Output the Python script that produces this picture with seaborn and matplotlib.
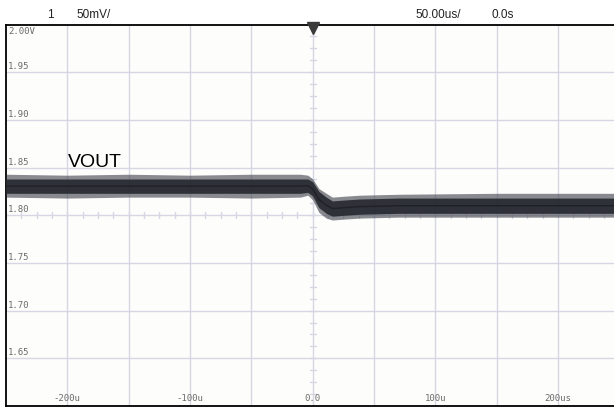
import numpy as np
import pandas as pd
import matplotlib
matplotlib.use("Agg")
import matplotlib.pyplot as plt
import matplotlib.transforms as mtrans
import seaborn as sns

# ---- data ----
t_us = [-250, -200, -150, -100, -50, -10, -4, 0, 5, 11, 16, 26, 38, 70, 150, 250]
outer_hi = [1.843, 1.842, 1.843, 1.842, 1.843, 1.843, 1.842, 1.838, 1.828, 1.823, 1.819, 1.820, 1.821, 1.822, 1.823, 1.823]
outer_lo = [1.819, 1.818, 1.819, 1.819, 1.818, 1.819, 1.821, 1.816, 1.803, 1.797, 1.795, 1.796, 1.797, 1.798, 1.798, 1.798]
core_hi = [1.838, 1.838, 1.838, 1.838, 1.838, 1.838, 1.838, 1.835, 1.825, 1.819, 1.815, 1.816, 1.817, 1.818, 1.818, 1.818]
core_lo = [1.823, 1.823, 1.823, 1.823, 1.823, 1.823, 1.824, 1.820, 1.808, 1.802, 1.799, 1.800, 1.801, 1.802, 1.802, 1.802]

ylab_vals = [1.95, 1.90, 1.85, 1.80, 1.75, 1.70, 1.65]
ylab_texts = ["1.95", "1.90", "1.85", "1.80", "1.75", "1.70", "1.65"]
xlab_vals = [-200, -100, 0, 100, 200]
xlab_texts = ["-200u", "-100u", "0.0", "100u", "200us"]
header = [(47, "1"), (76, "50mV/"), (415, "50.00us/"), (491, "0.0s")]
trace_label = "VOUT"

# ---- figure ----
sns.set_style("white")
plt.rcParams["font.family"] = ["DejaVu Sans"]
W, H = 614, 408
fig = plt.figure(figsize=(W / 100, H / 100), dpi=100)
fig.patch.set_facecolor("white")
ax = fig.add_axes([6 / W, (H - 406) / H, 613.5 / W, 381.5 / H])
ax.set_xlim(-250, 250)
ax.set_ylim(1.60, 2.00)
ax.set_facecolor("#fdfdfb")

grid_c = "#d6d6e4"
for gx in np.arange(-200, 201, 50):
    ax.axvline(gx, color=grid_c, lw=1, zorder=1)
for gy in np.arange(1.65, 1.96, 0.05):
    ax.axhline(gy, color=grid_c, lw=1, zorder=1)

# minor ticks along centre lines
d_v = 0.0032
for tx in np.arange(-250, 250.1, 12.5):
    ax.plot([tx, tx], [1.80 - d_v, 1.80 + d_v], color=grid_c, lw=1, zorder=1)
d_t = 2.5
for ty in np.arange(1.60, 2.0001, 0.0125):
    ax.plot([-d_t, d_t], [ty, ty], color=grid_c, lw=1, zorder=1)

# ---- trace ----
df = pd.DataFrame({"t": t_us, "ohi": outer_hi, "olo": outer_lo,
                   "chi": core_hi, "clo": core_lo})
df["mid"] = (df["chi"] + df["clo"]) / 2
ax.fill_between(df["t"], df["olo"], df["ohi"], color="#3b3e47", alpha=0.6, lw=0, zorder=3)
ax.fill_between(df["t"], df["clo"], df["chi"], color="#2a2c33", alpha=0.95, lw=0, zorder=4)
sns.lineplot(data=df, x="t", y="mid", ax=ax, color="#1f2127", lw=1, zorder=5)
ax.set_xlabel("")
ax.set_ylabel("")
ax.set_xticks([])
ax.set_yticks([])

for s in ["left", "top", "bottom"]:
    ax.spines[s].set_color("black")
    ax.spines[s].set_linewidth(1.3)
ax.spines["right"].set_visible(False)

# ---- labels ----
lab_c = "#6a6a6a"
mono = "DejaVu Sans Mono"
ax.annotate("2.00V", xy=(0, 2.00), xycoords=("axes fraction", "data"),
            xytext=(2, -3), textcoords="offset pixels", va="top", ha="left",
            fontsize=6.5, family=mono, color=lab_c)
for v, s in zip(ylab_vals, ylab_texts):
    ax.annotate(s, xy=(0, v), xycoords=("axes fraction", "data"),
                xytext=(2, 1), textcoords="offset pixels", va="bottom", ha="left",
                fontsize=6.5, family=mono, color=lab_c)
for v, s in zip(xlab_vals, xlab_texts):
    ax.annotate(s, xy=(v, 0), xycoords=("data", "axes fraction"),
                xytext=(0, 3), textcoords="offset pixels", va="bottom", ha="center",
                fontsize=6.5, family=mono, color=lab_c)

ax.annotate(trace_label, xy=(-250, 1.85), xycoords="data",
            xytext=(62, 1), textcoords="offset pixels", va="baseline", ha="left",
            fontsize=14, family="Liberation Sans", color="black", zorder=6)

# trigger marker
tr = mtrans.offset_copy(ax.transData, fig=fig, x=0, y=-3, units="dots")
ax.plot([0], [2.00], marker="v", ms=8, color="#3a3a3a", clip_on=False,
        transform=tr, zorder=7, lw=0)

for px, s in header:
    fig.text(px / W, 1 - 15 / H, s, va="center", ha="left", fontsize=8.5,
             family="Liberation Sans", color="#222222")

fig.savefig("out.png", dpi=100, facecolor=fig.get_facecolor())
